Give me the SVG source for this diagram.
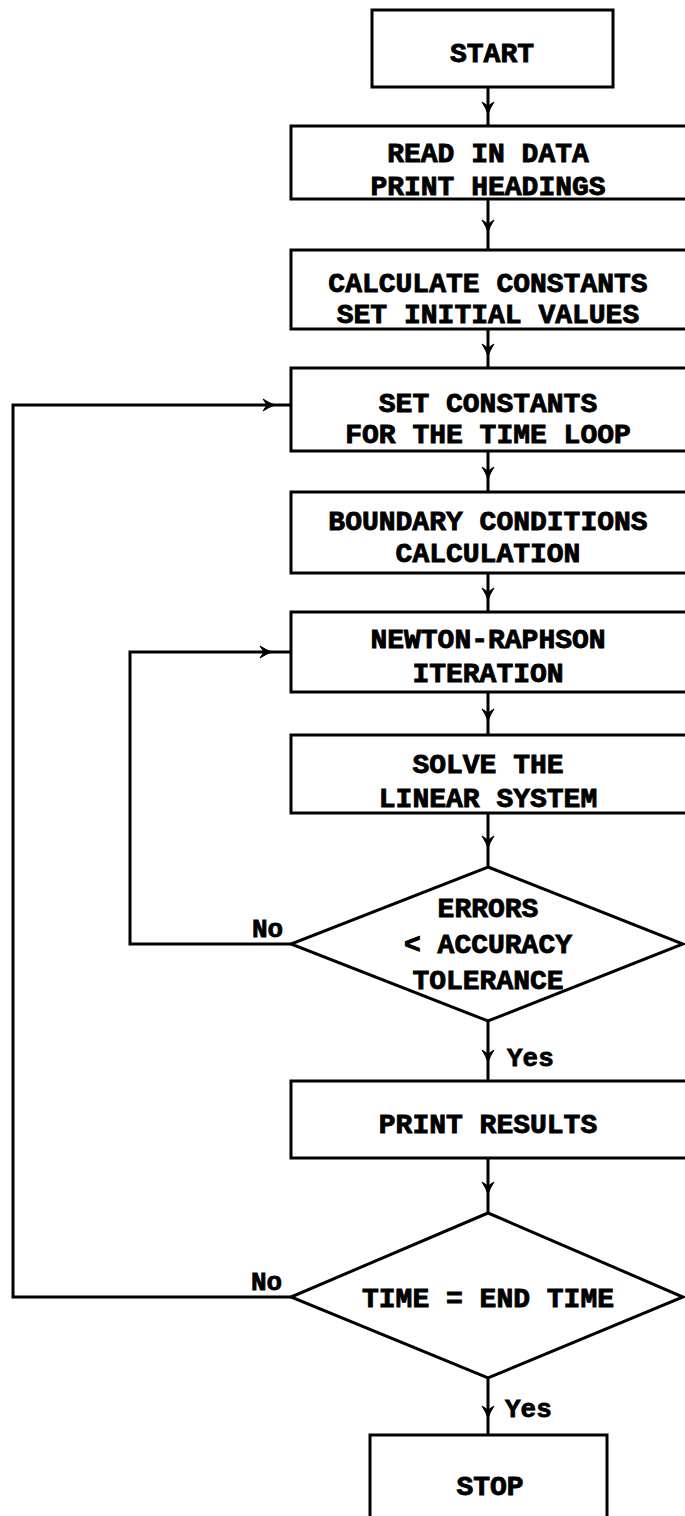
<svg xmlns="http://www.w3.org/2000/svg" width="685" height="1516" viewBox="0 0 685 1516">
<style>
.b{fill:#fff;stroke:#000;stroke-width:3}
.c{fill:none;stroke:#000;stroke-width:3}
.t{font-family:"Liberation Mono",monospace;font-weight:bold;font-size:28px;fill:#000;stroke:#000;stroke-width:0.9;text-anchor:middle}
.l{font-family:"Liberation Mono",monospace;font-weight:bold;font-size:26px;fill:#000;stroke:#000;stroke-width:0.8}
</style>
<defs>
<path id="ad" d="M-6,-10 Q-2,-4 0,2 Q2,-4 6,-10 L0,-6 Z" fill="#000" stroke="#000" stroke-width="1"/>
<path id="ar" d="M-10,-6 Q-4,-2 2,0 Q-4,2 -10,6 L-6,0 Z" fill="#000" stroke="#000" stroke-width="1"/>
</defs>
<g id="connectors">
<path class="c" d="M488,87V126M488,199V250M488,329V368M488,451V492M488,573V612M488,692V735M488,813V867M488,1021V1081M488,1158V1213M488,1378V1435"/>
<path class="c" d="M291,1297H13V405H291"/>
<path class="c" d="M291,944H130V652H291"/>
<use href="#ad" x="488" y="112"/>
<use href="#ad" x="488" y="230"/>
<use href="#ad" x="488" y="354"/>
<use href="#ad" x="488" y="477"/>
<use href="#ad" x="488" y="598"/>
<use href="#ad" x="488" y="719"/>
<use href="#ad" x="488" y="846"/>
<use href="#ad" x="488" y="1060"/>
<use href="#ad" x="488" y="1192"/>
<use href="#ad" x="488" y="1416"/>
<use href="#ar" x="273" y="405"/>
<use href="#ar" x="270" y="652"/>
<text class="l" x="252" y="937">No</text>
<text class="l" x="251" y="1290">No</text>
<text class="l" x="507" y="1066">Yes</text>
<text class="l" x="505" y="1417">Yes</text>
</g>
<g id="start"><rect class="b" x="372" y="10" width="241" height="77"/><text class="t" x="492" y="62">START</text></g>
<g id="read"><rect class="b" x="291" y="126" width="400" height="73"/><text class="t" x="488" y="162">READ IN DATA</text><text class="t" x="488" y="195">PRINT HEADINGS</text></g>
<g id="calc"><rect class="b" x="291" y="250" width="400" height="79"/><text class="t" x="488" y="292">CALCULATE CONSTANTS</text><text class="t" x="488" y="323">SET INITIAL VALUES</text></g>
<g id="setconst"><rect class="b" x="291" y="368" width="400" height="83"/><text class="t" x="488" y="412">SET CONSTANTS</text><text class="t" x="488" y="443">FOR THE TIME LOOP</text></g>
<g id="boundary"><rect class="b" x="291" y="492" width="400" height="81"/><text class="t" x="488" y="530">BOUNDARY CONDITIONS</text><text class="t" x="488" y="562">CALCULATION</text></g>
<g id="newton"><rect class="b" x="291" y="612" width="400" height="80"/><text class="t" x="488" y="648">NEWTON-RAPHSON</text><text class="t" x="488" y="682">ITERATION</text></g>
<g id="solve"><rect class="b" x="291" y="735" width="400" height="78"/><text class="t" x="488" y="773">SOLVE THE</text><text class="t" x="488" y="807">LINEAR SYSTEM</text></g>
<g id="errors"><path class="b" d="M488,867L683,944L488,1021L291,944Z"/><text class="t" x="488" y="917">ERRORS</text><text class="t" x="488" y="953">&lt; ACCURACY</text><text class="t" x="488" y="989">TOLERANCE</text></g>
<g id="print"><rect class="b" x="291" y="1081" width="400" height="77"/><text class="t" x="488" y="1133">PRINT RESULTS</text></g>
<g id="time"><path class="b" d="M488,1213L683,1297L488,1378L291,1297Z"/><text class="t" x="488" y="1307">TIME = END TIME</text></g>
<g id="stop"><rect class="b" x="370" y="1435" width="237" height="100"/><text class="t" x="490" y="1495">STOP</text></g>
</svg>
